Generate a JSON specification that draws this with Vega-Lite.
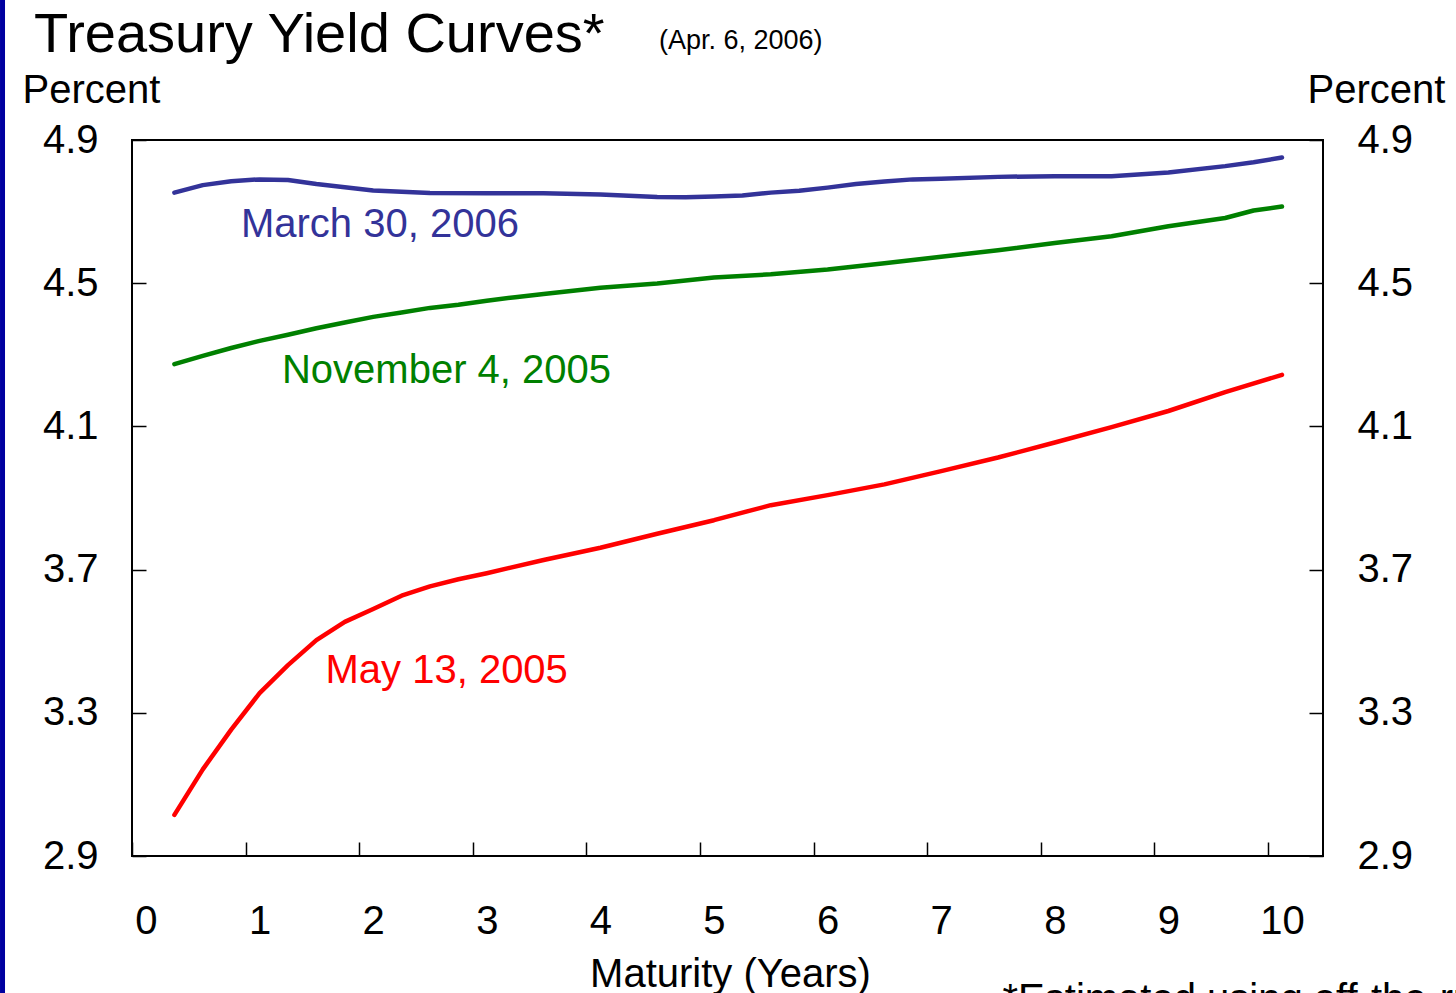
{
  "$schema": "https://vega.github.io/schema/vega-lite/v6.json",
  "width": 1191,
  "height": 716,
  "autosize": {"type": "none"},
  "padding": {"left": 132, "top": 140, "right": 133, "bottom": 137},
  "background": "white",
  "title": {
    "text": "Treasury Yield Curves*",
    "orient": "none",
    "anchor": "start",
    "frame": "group",
    "dx": -98,
    "dy": -88,
    "baseline": "alphabetic",
    "font": "Liberation Sans",
    "fontSize": 56,
    "fontWeight": "normal",
    "color": "#000000"
  },
  "config": {
    "font": "Liberation Sans",
    "view": {"stroke": "#000000", "strokeWidth": 2},
    "axis": {
      "domain": false,
      "grid": false,
      "ticks": true,
      "tickColor": "#000000",
      "tickWidth": 1.5,
      "tickSize": -14,
      "labelColor": "#000000",
      "labelFont": "Liberation Sans",
      "labelFontSize": 40,
      "titleFont": "Liberation Sans",
      "titleFontSize": 40,
      "titleFontWeight": "normal",
      "titleColor": "#000000"
    }
  },
  "datasets": {
    "curves": [
      {"series": "March 30, 2006", "maturity": 0.25, "yield": 4.753},
      {"series": "March 30, 2006", "maturity": 0.5, "yield": 4.774},
      {"series": "March 30, 2006", "maturity": 0.75, "yield": 4.785},
      {"series": "March 30, 2006", "maturity": 1.0, "yield": 4.79},
      {"series": "March 30, 2006", "maturity": 1.25, "yield": 4.788},
      {"series": "March 30, 2006", "maturity": 1.5, "yield": 4.777},
      {"series": "March 30, 2006", "maturity": 1.75, "yield": 4.768},
      {"series": "March 30, 2006", "maturity": 2.0, "yield": 4.759},
      {"series": "March 30, 2006", "maturity": 2.5, "yield": 4.752},
      {"series": "March 30, 2006", "maturity": 3.0, "yield": 4.751},
      {"series": "March 30, 2006", "maturity": 3.5, "yield": 4.751},
      {"series": "March 30, 2006", "maturity": 4.0, "yield": 4.748},
      {"series": "March 30, 2006", "maturity": 4.5, "yield": 4.741},
      {"series": "March 30, 2006", "maturity": 4.75, "yield": 4.74},
      {"series": "March 30, 2006", "maturity": 5.0, "yield": 4.742},
      {"series": "March 30, 2006", "maturity": 5.25, "yield": 4.745},
      {"series": "March 30, 2006", "maturity": 5.5, "yield": 4.753},
      {"series": "March 30, 2006", "maturity": 5.75, "yield": 4.758},
      {"series": "March 30, 2006", "maturity": 6.0, "yield": 4.767},
      {"series": "March 30, 2006", "maturity": 6.25, "yield": 4.777},
      {"series": "March 30, 2006", "maturity": 6.5, "yield": 4.784},
      {"series": "March 30, 2006", "maturity": 6.75, "yield": 4.79},
      {"series": "March 30, 2006", "maturity": 7.0, "yield": 4.792},
      {"series": "March 30, 2006", "maturity": 7.5, "yield": 4.797},
      {"series": "March 30, 2006", "maturity": 8.0, "yield": 4.799},
      {"series": "March 30, 2006", "maturity": 8.5, "yield": 4.799},
      {"series": "March 30, 2006", "maturity": 9.0, "yield": 4.809},
      {"series": "March 30, 2006", "maturity": 9.5, "yield": 4.827},
      {"series": "March 30, 2006", "maturity": 9.75, "yield": 4.838},
      {"series": "March 30, 2006", "maturity": 10.0, "yield": 4.851},
      {"series": "November 4, 2005", "maturity": 0.25, "yield": 4.274},
      {"series": "November 4, 2005", "maturity": 0.5, "yield": 4.297},
      {"series": "November 4, 2005", "maturity": 0.75, "yield": 4.319},
      {"series": "November 4, 2005", "maturity": 1.0, "yield": 4.339},
      {"series": "November 4, 2005", "maturity": 1.25, "yield": 4.356},
      {"series": "November 4, 2005", "maturity": 1.5, "yield": 4.374},
      {"series": "November 4, 2005", "maturity": 1.75, "yield": 4.39},
      {"series": "November 4, 2005", "maturity": 2.0, "yield": 4.406},
      {"series": "November 4, 2005", "maturity": 2.25, "yield": 4.418},
      {"series": "November 4, 2005", "maturity": 2.5, "yield": 4.431},
      {"series": "November 4, 2005", "maturity": 2.75, "yield": 4.44},
      {"series": "November 4, 2005", "maturity": 3.0, "yield": 4.451},
      {"series": "November 4, 2005", "maturity": 3.25, "yield": 4.461},
      {"series": "November 4, 2005", "maturity": 3.5, "yield": 4.47},
      {"series": "November 4, 2005", "maturity": 4.0, "yield": 4.487},
      {"series": "November 4, 2005", "maturity": 4.5, "yield": 4.499},
      {"series": "November 4, 2005", "maturity": 5.0, "yield": 4.516},
      {"series": "November 4, 2005", "maturity": 5.5, "yield": 4.525},
      {"series": "November 4, 2005", "maturity": 6.0, "yield": 4.538},
      {"series": "November 4, 2005", "maturity": 6.5, "yield": 4.556},
      {"series": "November 4, 2005", "maturity": 7.0, "yield": 4.574},
      {"series": "November 4, 2005", "maturity": 7.5, "yield": 4.592},
      {"series": "November 4, 2005", "maturity": 8.0, "yield": 4.612},
      {"series": "November 4, 2005", "maturity": 8.5, "yield": 4.631},
      {"series": "November 4, 2005", "maturity": 9.0, "yield": 4.659},
      {"series": "November 4, 2005", "maturity": 9.5, "yield": 4.682},
      {"series": "November 4, 2005", "maturity": 9.75, "yield": 4.703},
      {"series": "November 4, 2005", "maturity": 10.0, "yield": 4.714},
      {"series": "May 13, 2005", "maturity": 0.25, "yield": 3.015},
      {"series": "May 13, 2005", "maturity": 0.5, "yield": 3.142},
      {"series": "May 13, 2005", "maturity": 0.75, "yield": 3.253},
      {"series": "May 13, 2005", "maturity": 1.0, "yield": 3.355},
      {"series": "May 13, 2005", "maturity": 1.25, "yield": 3.433},
      {"series": "May 13, 2005", "maturity": 1.5, "yield": 3.503},
      {"series": "May 13, 2005", "maturity": 1.75, "yield": 3.554},
      {"series": "May 13, 2005", "maturity": 2.0, "yield": 3.59},
      {"series": "May 13, 2005", "maturity": 2.25, "yield": 3.627},
      {"series": "May 13, 2005", "maturity": 2.5, "yield": 3.653},
      {"series": "May 13, 2005", "maturity": 2.75, "yield": 3.673},
      {"series": "May 13, 2005", "maturity": 3.0, "yield": 3.69},
      {"series": "May 13, 2005", "maturity": 3.5, "yield": 3.727},
      {"series": "May 13, 2005", "maturity": 4.0, "yield": 3.761},
      {"series": "May 13, 2005", "maturity": 4.5, "yield": 3.8},
      {"series": "May 13, 2005", "maturity": 5.0, "yield": 3.838},
      {"series": "May 13, 2005", "maturity": 5.5, "yield": 3.88},
      {"series": "May 13, 2005", "maturity": 6.0, "yield": 3.908},
      {"series": "May 13, 2005", "maturity": 6.5, "yield": 3.938},
      {"series": "May 13, 2005", "maturity": 7.0, "yield": 3.975},
      {"series": "May 13, 2005", "maturity": 7.5, "yield": 4.013},
      {"series": "May 13, 2005", "maturity": 8.0, "yield": 4.055},
      {"series": "May 13, 2005", "maturity": 8.5, "yield": 4.098},
      {"series": "May 13, 2005", "maturity": 9.0, "yield": 4.143},
      {"series": "May 13, 2005", "maturity": 9.5, "yield": 4.196},
      {"series": "May 13, 2005", "maturity": 10.0, "yield": 4.244}
    ]
  },
  "layer": [
    {
      "layer": [
        {
          "data": {"name": "curves"},
          "mark": {"type": "line", "strokeWidth": 4.5, "strokeCap": "round", "strokeJoin": "round"},
          "encoding": {
            "x": {
              "field": "maturity",
              "type": "quantitative",
              "scale": {"domain": [-0.1232, 10.361], "nice": false, "zero": false},
              "axis": {
                "values": [0, 1, 2, 3, 4, 5, 6, 7, 8, 9, 10],
                "format": "d",
                "tickOffset": -14,
                "labelOffset": 14,
                "labelFlush": false,
                "labelBaseline": "alphabetic",
                "labelPadding": 91,
                "title": "Maturity (Years)",
                "titleX": 598,
                "titleY": 130,
                "titleAlign": "center",
                "titleBaseline": "alphabetic"
              }
            },
            "y": {
              "field": "yield",
              "type": "quantitative",
              "scale": {"domain": [2.9, 4.9], "nice": false, "zero": false},
              "axis": {
                "orient": "left",
                "values": [2.9, 3.3, 3.7, 4.1, 4.5, 4.9],
                "format": ".1f",
                "labelPadding": 48,
                "title": "Percent",
                "titleAngle": 0,
                "titleAlign": "left",
                "titleBaseline": "middle",
                "titleX": -110,
                "titleY": -50
              }
            },
            "color": {
              "field": "series",
              "type": "nominal",
              "scale": {
                "domain": ["March 30, 2006", "November 4, 2005", "May 13, 2005"],
                "range": ["#333399", "#008000", "#ff0000"]
              },
              "legend": null
            }
          }
        },
        {
          "data": {"values": [{}]},
          "mark": {"type": "text", "text": "March 30, 2006", "color": "#333399", "fontSize": 40, "align": "left", "baseline": "alphabetic"},
          "encoding": {
            "x": {"datum": 0.836, "type": "quantitative"},
            "y": {"datum": 4.629, "type": "quantitative"}
          }
        },
        {
          "data": {"values": [{}]},
          "mark": {"type": "text", "text": "November 4, 2005", "color": "#008000", "fontSize": 40, "align": "left", "baseline": "alphabetic"},
          "encoding": {
            "x": {"datum": 1.197, "type": "quantitative"},
            "y": {"datum": 4.22, "type": "quantitative"}
          }
        },
        {
          "data": {"values": [{}]},
          "mark": {"type": "text", "text": "May 13, 2005", "color": "#ff0000", "fontSize": 40, "align": "left", "baseline": "alphabetic"},
          "encoding": {
            "x": {"datum": 1.58, "type": "quantitative"},
            "y": {"datum": 3.384, "type": "quantitative"}
          }
        },
        {
          "data": {"values": [{}]},
          "mark": {"type": "text", "text": "(Apr. 6, 2006)", "color": "#000000", "fontSize": 27, "align": "left", "baseline": "alphabetic"},
          "encoding": {
            "x": {"datum": 4.516, "type": "quantitative"},
            "y": {"datum": 5.154, "type": "quantitative"}
          }
        },
        {
          "data": {"values": [{}]},
          "mark": {"type": "text", "text": "*Estimated using off-the-run Treasury securities.", "color": "#000000", "fontSize": 40, "align": "left", "baseline": "alphabetic"},
          "encoding": {
            "x": {"datum": 7.54, "type": "quantitative"},
            "y": {"datum": 2.465, "type": "quantitative"}
          }
        },
        {
          "data": {"values": [{}]},
          "mark": {"type": "rule", "color": "#0000a0", "strokeWidth": 5},
          "encoding": {
            "x": {"datum": -1.263, "type": "quantitative"},
            "y": {"datum": 5.45, "type": "quantitative"},
            "y2": {"datum": 2.4}
          }
        }
      ]
    },
    {
      "data": {"name": "curves"},
      "mark": {"type": "line", "opacity": 0},
      "encoding": {
        "x": {"field": "maturity", "type": "quantitative"},
        "y": {
          "field": "yield",
          "type": "quantitative",
          "scale": {"domain": [2.9, 4.9], "nice": false, "zero": false},
          "axis": {
            "orient": "right",
            "values": [2.9, 3.3, 3.7, 4.1, 4.5, 4.9],
            "format": ".1f",
            "labelPadding": 48,
            "title": "Percent",
            "titleAngle": 0,
            "titleAlign": "left",
            "titleBaseline": "middle",
            "titleX": -16,
            "titleY": -50
          }
        },
        "detail": {"field": "series"}
      }
    }
  ],
  "resolve": {"scale": {"y": "independent"}}
}
